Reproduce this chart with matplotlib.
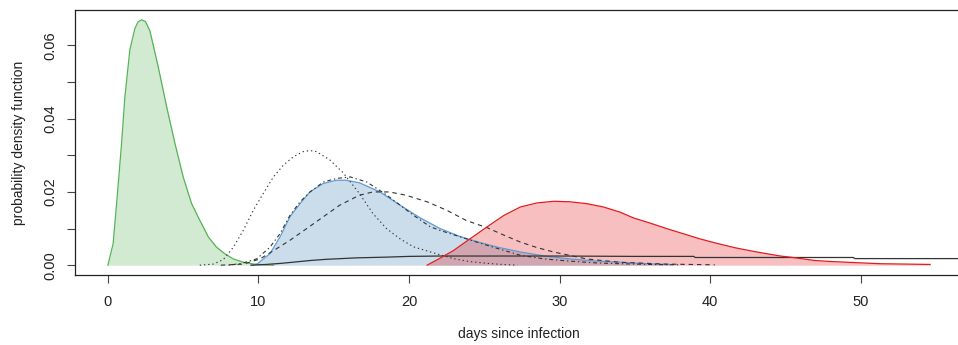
import matplotlib
matplotlib.use("Agg")
import matplotlib.pyplot as plt

plt.rcParams['font.family'] = ['Liberation Sans', 'DejaVu Sans']

# ---- data ----
green_x = [0, 0.35, 0.58, 0.91, 1.13, 1.46, 1.79, 2.0, 2.24, 2.5, 2.79, 3.34, 3.9, 4.45, 5.0,
           5.56, 6.11, 6.67, 7.22, 7.77, 8.33, 8.99, 9.7, 10.4, 11.0]
green_y = [0, 0.0059, 0.0168, 0.0333, 0.046, 0.0588, 0.0646, 0.0664, 0.067, 0.0665, 0.064,
           0.0542, 0.0433, 0.0333, 0.0241, 0.0168, 0.0122, 0.0077, 0.0049, 0.0031, 0.0017,
           0.0008, 0.0003, 0.0001, 0]

blue_x = [9.6, 9.9, 10.76, 11.43, 12.09, 12.76, 13.42, 14.3, 15.2, 15.8, 16.7, 18.07, 19.4,
          20.7, 22.06, 23.4, 24.7, 26.0, 27.4, 29.0, 30.7, 32.5, 34.0, 35.7, 37.3]
blue_y = [0, 0.0003, 0.0031, 0.0077, 0.0132, 0.0168, 0.02, 0.0223, 0.0232, 0.0232, 0.0225,
          0.02, 0.0164, 0.013, 0.01, 0.0078, 0.0062, 0.0048, 0.0036, 0.0025, 0.0017, 0.0011,
          0.0008, 0.0004, 0.0002]

red_x = [21.2, 22.1, 22.95, 24.05, 25.16, 26.3, 27.4, 28.5, 29.6, 30.7, 31.8, 32.9, 34.0,
         34.9, 36.0, 37.1, 38.2, 39.3, 40.4, 41.6, 42.7, 43.8, 44.65, 45.5, 46.9, 48.0, 49.1,
         50.2, 51.3, 53.0, 54.6]
red_y = [0, 0.002, 0.004, 0.0072, 0.0104, 0.0136, 0.0159, 0.017, 0.01745, 0.0173, 0.0168,
         0.0159, 0.0145, 0.0129, 0.0115, 0.01, 0.0086, 0.0072, 0.006, 0.0048, 0.0039, 0.0031,
         0.0025, 0.0021, 0.0013, 0.001, 0.0008, 0.0006, 0.0004, 0.0003, 0.0002]

dotted_x = [6.1, 7.0, 7.66, 8.33, 8.99, 9.66, 10.32, 10.99, 11.65, 12.31, 12.97, 13.42, 13.86,
            14.75, 15.63, 16.7, 17.6, 18.5, 19.4, 20.3, 21.6, 22.95, 24.0, 25.2, 26.2, 27.2]
dotted_y = [0, 0.0003, 0.0015, 0.0049, 0.0095, 0.015, 0.0196, 0.0241, 0.0273, 0.0296, 0.031,
            0.0313, 0.031, 0.0287, 0.0252, 0.0196, 0.0141, 0.01, 0.0072, 0.005, 0.0034,
            0.0018, 0.001, 0.0005, 0.0002, 0]

dotdash_x = [8.0, 8.9, 9.87, 10.76, 11.43, 12.09, 12.76, 13.42, 14.3, 15.2, 16.1, 17.2, 18.5,
             20.3, 21.4, 22.06, 23.8, 25.6, 27.4, 29.0, 30.7, 32.5, 34.0, 36.0, 38.0]
dotdash_y = [0, 0.0005, 0.0017, 0.0049, 0.0086, 0.0136, 0.0173, 0.02, 0.0227, 0.0237, 0.0241,
             0.0227, 0.0192, 0.0136, 0.0105, 0.0095, 0.0072, 0.0049, 0.0027, 0.0017, 0.0011,
             0.0006, 0.0004, 0.0002, 0.0001]

dashed_x = [7.5, 9.0, 10.1, 11.2, 12.09, 13.2, 14.3, 15.4, 16.7, 17.6, 18.7, 19.8, 21.2, 22.5,
            23.8, 25.2, 26.3, 27.4, 28.5, 29.6, 31.8, 34.0, 37.0, 40.3]
dashed_y = [0, 0.0003, 0.0017, 0.0045, 0.0068, 0.01, 0.0132, 0.0164, 0.0191, 0.02, 0.02,
            0.0191, 0.0173, 0.015, 0.0122, 0.0102, 0.0082, 0.0063, 0.0048, 0.0036, 0.0017,
            0.0008, 0.0003, 0.0001]

solid_x = [9.5, 10.5, 11.5, 12.5, 13.5, 14.5, 15.5, 16.5, 17.5, 18.5, 20.0, 22.0, 25.0, 30.0,
           35.0, 38.9, 39.0, 49.5, 49.6, 58.0]
solid_y = [0, 0.0002, 0.0005, 0.0009, 0.0013, 0.0016, 0.0018, 0.002, 0.0021, 0.0022, 0.0024,
           0.0025, 0.0025, 0.0025, 0.0024, 0.0024, 0.0021, 0.0021, 0.0018, 0.0018]

x_ticks = [0, 10, 20, 30, 40, 50]
y_ticks = [0.00, 0.01, 0.02, 0.03, 0.04, 0.05, 0.06]
y_labels = ['0.00', '', '0.02', '', '0.04', '', '0.06']

# ---- figure ----
W, H = 958, 345
fig = plt.figure(figsize=(W / 100, H / 100), dpi=100)
left, right, top, bottom = 75, 963, 10, 275
ax = fig.add_axes([left / W, 1 - bottom / H, (right - left) / W, (bottom - top) / H])

# fills
ax.fill_between(green_x, green_y, 0, color='#4daf4a', alpha=0.25, lw=0)
ax.plot(green_x, green_y, color='#55b355', lw=0.9)
ax.fill_between(blue_x, blue_y, 0, color='#4682b4', alpha=0.28, lw=0)
ax.plot(blue_x, blue_y, color='#5b9bd5', lw=0.9)

# black curves
lc = '#333333'
ax.plot(dotted_x, dotted_y, color=lc, lw=0.8, dashes=(1.2, 2.6))
ax.plot(dotdash_x, dotdash_y, color=lc, lw=0.8, dashes=(1.2, 2.6, 3.5, 2.6))
ax.plot(dashed_x, dashed_y, color=lc, lw=0.8, dashes=(4.0, 3.5))
ax.plot(solid_x, solid_y, color='#333333', lw=0.9)

ax.fill_between(red_x, red_y, 0, color='#e41a1c', alpha=0.28, lw=0)
ax.plot(red_x, red_y, color='#e41a1c', lw=0.9)

ax.set_xlim(-2.184, 56.784)
ax.set_ylim(-0.00268, 0.06968)

ax.set_xticks(x_ticks)
ax.set_xticklabels([str(t) for t in x_ticks])
ax.set_yticks(y_ticks)
ax.set_yticklabels(y_labels, rotation=90, va='center')

ax.tick_params(axis='both', direction='out', length=6, width=0.8, color='#444444',
               labelsize=10.5, labelcolor='#222222')
ax.tick_params(axis='x', pad=8.5)
ax.tick_params(axis='y', pad=7)
for s in ax.spines.values():
    s.set_linewidth(0.9)
    s.set_color('#222222')

ax.set_xlabel('days since infection', fontsize=10, color='#222222', labelpad=13)
ax.set_ylabel('probability density function', fontsize=10, color='#222222', labelpad=12)

fig.savefig('out.png', dpi=100)
